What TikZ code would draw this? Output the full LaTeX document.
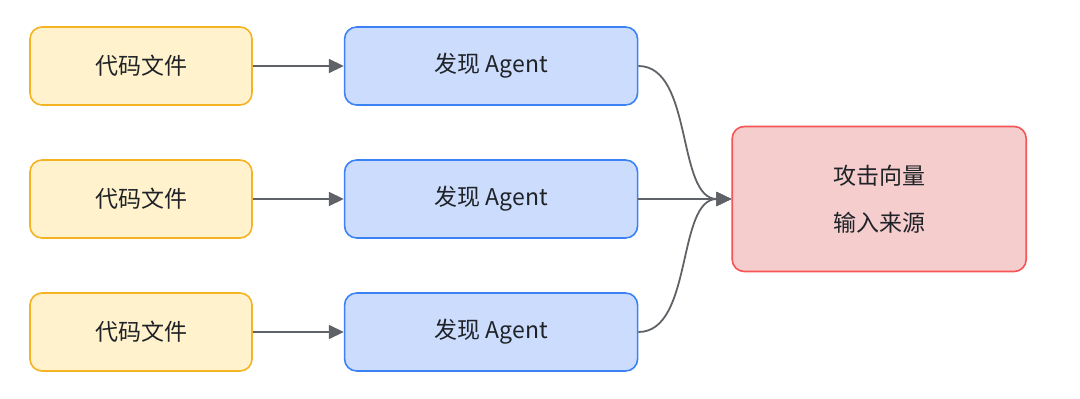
\documentclass[tikz,border=0pt]{standalone}
\usepackage{fontspec}
\newfontfamily\cjk{Noto Sans CJK SC}
\usetikzlibrary{arrows.meta, positioning}
\definecolor{fileFill}{HTML}{FFF2CC}
\definecolor{fileDraw}{HTML}{F5B323}
\definecolor{agentFill}{HTML}{CCDCFD}
\definecolor{agentDraw}{HTML}{3B82F6}
\definecolor{vecFill}{HTML}{F5CDCD}
\definecolor{vecDraw}{HTML}{F65455}
\definecolor{lineGray}{HTML}{5F6368}
\definecolor{textDark}{HTML}{1F2328}
\tikzset{
    base/.style={draw, line width=1.6pt, rounded corners=12pt, align=center, text=textDark,
        font=\cjk\fontsize{23}{47}\selectfont, inner sep=0pt},
    filebox/.style={base, rectangle, minimum width=222pt, minimum height=78pt, fill=fileFill, draw=fileDraw},
    agentbox/.style={base, rectangle, minimum width=293pt, minimum height=78pt, fill=agentFill, draw=agentDraw},
    vecbox/.style={base, rectangle, minimum width=294pt, minimum height=145pt, fill=vecFill, draw=vecDraw},
    arrow/.style={-{Triangle[length=15pt, width=14pt]}, line width=1.8pt, draw=lineGray}
}

\begin{document}
\begin{tikzpicture}[node distance=53.4pt]
    \useasboundingbox (0,0) rectangle (1080pt,-399pt);
    \node (file1) [filebox] at (141pt,-66pt) {代码文件};
    \node (file2) [filebox, below=of file1] {代码文件};
    \node (file3) [filebox, below=of file2] {代码文件};
    \node (agent1) [agentbox, right=91pt of file1] {发现 Agent};
    \node (agent2) [agentbox, right=91pt of file2] {发现 Agent};
    \node (agent3) [agentbox, right=91pt of file3] {发现 Agent};
    \node (vector) [vecbox, right=93pt of agent2] {攻击向量\\输入来源};

    \draw [arrow] (file1) -- (agent1);
    \draw [arrow] (file2) -- (agent2);
    \draw [arrow] (file3) -- (agent3);
    \draw [arrow] (agent1.east) .. controls +(55pt,0) and +(-55pt,0) .. (vector.west);
    \draw [arrow] (agent2) -- (vector);
    \draw [arrow] (agent3.east) .. controls +(55pt,0) and +(-55pt,0) .. (vector.west);
\end{tikzpicture}
\end{document}
